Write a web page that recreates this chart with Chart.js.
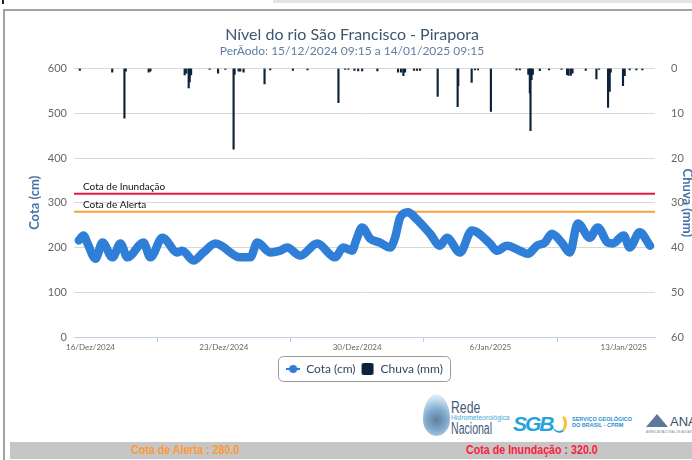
<!DOCTYPE html>
<html lang="pt-BR">
<head>
<meta charset="utf-8">
<title>Nível do rio São Francisco - Pirapora</title>
<script src="https://cdn.jsdelivr.net/npm/chart.js@4.4.1/dist/chart.umd.min.js"></script>
<style>
  html, body { margin: 0; padding: 0; background: #fff; }
  body { width: 692px; height: 460px; position: relative; overflow: hidden; font-family: Lato, "Liberation Sans", sans-serif; }
  #faixa { position: absolute; left: 273px; top: 0; width: 419px; height: 3px; background: #e4e4e4; }
  #marca { position: absolute; left: 2px; top: 0; width: 2px; height: 4px; background: #222; }
  #quadro { position: absolute; left: 3px; top: 9px; width: 700px; height: 460px; border-left: 2px solid #a3a3a3; border-top: 2px solid #a3a3a3; }
  #area { position: absolute; left: 6px; top: 12px; width: 692px; height: 378px; }
  #gota { position: absolute; left: 423px; top: 394px; width: 27px; height: 42px; border-radius: 50% 50% 50% 50% / 60% 60% 40% 40%; background: radial-gradient(circle at 50% 62%, #5d7f9e 0%, #7fa9cc 35%, #c2ddef 70%, #fff 100%); }
  .rede { position: absolute; left: 451px; color: #3f5b78; font-family: "Liberation Sans", sans-serif; line-height: 1; transform-origin: left top; white-space: nowrap; }
  #sgb { position: absolute; left: 513px; top: 412px; font: italic bold 21px "Liberation Sans", sans-serif; color: #27a3dc; letter-spacing: -2px; }
  #sgbArco { position: absolute; left: 552px; top: 414px; width: 12px; height: 15px; border-radius: 50%; border-right: 3px solid #f2c230; border-top: 2px solid transparent; border-bottom: 2px solid #27a3dc; }
  #sgbTexto { position: absolute; left: 572px; top: 416px; font: bold 5.5px "Liberation Sans", sans-serif; color: #2a8fd0; line-height: 6px; }
  #anaIcone { position: absolute; left: 646px; top: 414px; width: 0; height: 0; border-left: 11px solid transparent; border-right: 11px solid transparent; border-bottom: 13px solid #5d7a99; }
  #ana { position: absolute; left: 670px; top: 414px; font: 13px "Liberation Sans", sans-serif; color: #3a4e6a; }
  #anaSub { position: absolute; left: 646px; top: 430px; font: 3px "Liberation Sans", sans-serif; color: #7a8da3; }
  #barra { position: absolute; left: 10px; top: 442px; width: 682px; height: 17px; background: #c6c6c6; }
  .aviso { position: absolute; top: 1px; font: bold 12px "Liberation Sans", sans-serif; line-height: 15px; transform: scaleX(0.89); transform-origin: left top; white-space: nowrap; }
</style>
</head>
<body>
<div id="faixa"></div>
<div id="marca"></div>
<div id="quadro"></div>
<div id="area"><canvas id="grafico"></canvas></div>
<div id="gota"></div>
<div class="rede" style="top:399px;font-size:17px;transform:scaleX(0.72);">Rede</div>
<div class="rede" style="top:414px;font-size:7.5px;color:#3fa9d8;transform:scaleX(0.9);">Hidrometeorológica</div>
<div class="rede" style="top:421px;font-size:16px;transform:scaleX(0.66);">Nacional</div>
<div id="sgb">SGB</div>
<div id="sgbArco"></div>
<div id="sgbTexto">SERVIÇO GEOLÓGICO<br>DO BRASIL - CPRM</div>
<div id="anaIcone"></div>
<div id="ana">ANA</div>
<div id="anaSub">AGÊNCIA NACIONAL DE ÁGUAS</div>
<div id="barra">
  <span class="aviso" style="left:121px;color:#ff9933;">Cota de Alerta : 280.0</span>
  <span class="aviso" style="left:456px;color:#ff1a40;">Cota de Inundação : 320.0</span>
</div>
<script>
const cotaHoras = [
  "2024-12-15T09:15", "2024-12-15T15:10", "2024-12-15T20:15", "2024-12-16T06:15", "2024-12-16T15:05",
  "2024-12-17T03:40", "2024-12-17T13:45", "2024-12-17T22:30", "2024-12-18T18:40", "2024-12-19T03:30",
  "2024-12-19T18:35", "2024-12-20T13:30", "2024-12-20T19:45", "2024-12-21T09:35", "2024-12-21T22:15",
  "2024-12-22T13:20", "2024-12-23T20:45", "2024-12-24T09:20", "2024-12-24T18:10", "2024-12-25T10:30",
  "2024-12-25T23:05", "2024-12-26T07:55", "2024-12-27T00:15", "2024-12-27T21:40", "2024-12-28T20:20",
  "2024-12-29T06:25", "2024-12-29T17:45", "2024-12-29T22:45", "2024-12-30T06:20", "2024-12-30T16:25",
  "2024-12-31T05:00", "2024-12-31T17:35", "2024-12-31T23:50", "2025-01-01T06:10", "2025-01-01T16:15",
  "2025-01-02T01:00", "2025-01-02T19:55", "2025-01-03T08:30", "2025-01-03T17:15", "2025-01-04T09:40",
  "2025-01-05T00:45", "2025-01-05T23:25", "2025-01-06T08:10", "2025-01-06T20:50", "2025-01-07T13:10",
  "2025-01-07T23:15", "2025-01-08T10:35", "2025-01-08T20:40", "2025-01-09T05:25", "2025-01-09T18:00",
  "2025-01-10T04:05", "2025-01-10T14:10", "2025-01-11T05:15", "2025-01-11T15:20", "2025-01-12T03:55",
  "2025-01-12T10:15", "2025-01-13T00:05", "2025-01-13T07:35", "2025-01-13T20:10", "2025-01-14T09:15"
];
const cotaValores = [
  216, 227, 209, 175, 211, 178, 209, 178, 211, 178,
  222, 189, 193, 171, 189, 209, 178, 178, 211, 189,
  193, 200, 182, 209, 178, 200, 193, 216, 245, 220,
  211, 200, 222, 267, 279, 267, 231, 204, 222, 189,
  238, 209, 193, 204, 193, 186, 204, 211, 231, 211,
  189, 254, 222, 245, 211, 209, 227, 200, 234, 204
];

const chuvaHoras = [
  "2024-12-15T10:30", "2024-12-17T03:20", "2024-12-17T18:45", "2024-12-17T20:25", "2024-12-19T01:20",
  "2024-12-19T03:30", "2024-12-20T22:40", "2024-12-21T00:50", "2024-12-21T03:45", "2024-12-21T05:00",
  "2024-12-21T06:45", "2024-12-22T06:10", "2024-12-22T16:45", "2024-12-23T01:55", "2024-12-23T12:20",
  "2024-12-23T13:35", "2024-12-23T18:40", "2024-12-23T20:45", "2024-12-24T00:55", "2024-12-25T03:20",
  "2024-12-25T10:30", "2024-12-26T15:05", "2024-12-27T09:30", "2024-12-29T00:30", "2024-12-29T08:55",
  "2024-12-29T13:05", "2024-12-29T20:40", "2024-12-30T01:20", "2024-12-30T06:20", "2024-12-31T01:35",
  "2025-01-01T03:35", "2025-01-01T07:25", "2025-01-01T10:20", "2025-01-01T12:25", "2025-01-01T23:45",
  "2025-01-02T03:30", "2025-01-02T07:20", "2025-01-03T05:35", "2025-01-04T06:45", "2025-01-04T07:30",
  "2025-01-05T00:25", "2025-01-05T04:30", "2025-01-05T08:20", "2025-01-06T00:40", "2025-01-07T09:00",
  "2025-01-07T13:10", "2025-01-07T23:50", "2025-01-08T01:45", "2025-01-08T02:35", "2025-01-08T03:55",
  "2025-01-08T05:30", "2025-01-08T14:20", "2025-01-09T02:00", "2025-01-09T17:40", "2025-01-10T00:40",
  "2025-01-10T02:30", "2025-01-10T05:20", "2025-01-10T07:30", "2025-01-11T00:15", "2025-01-11T13:40",
  "2025-01-11T17:00", "2025-01-12T04:20", "2025-01-12T06:25", "2025-01-12T07:40", "2025-01-12T23:10",
  "2025-01-13T01:20", "2025-01-13T07:35", "2025-01-13T16:00", "2025-01-13T23:35"
];
const chuvaValores = [
  0.4, 0.8, 11.1, 0.6, 0.8, 0.6, 1.4, 1.0, 4.3, 3.0,
  1.4, 0.2, 1.0, 0.2, 18.0, 1.3, 0.6, 0.6, 0.8, 3.4,
  0.3, 0.4, 0.3, 7.6, 0.2, 0.2, 0.4, 0.5, 0.5, 0.5,
  0.8, 0.8, 1.6, 0.8, 0.4, 0.4, 0.4, 6.2, 8.5, 3.8,
  3.1, 0.3, 0.3, 9.6, 0.3, 0.3, 1.3, 5.5, 13.9, 2.5,
  1.3, 0.45, 0.3, 0.2, 1.35, 1.5, 1.5, 1.0, 0.4, 2.3,
  0.2, 8.7, 5.1, 0.8, 3.8, 1.6, 0.3, 0.3, 0.3
];

const ticksX = ["2024-12-16T00:00", "2024-12-23T00:00", "2024-12-30T00:00", "2025-01-06T00:00", "2025-01-13T00:00"];
const rotulosX = ["16/Dez/2024", "23/Dez/2024", "30/Dez/2024", "6/Jan/2025", "13/Jan/2025"];
const limitesX = ["2024-12-15T03:10", "2025-01-14T15:30"];

const cotasReferencia = [320, 280];
const nomesReferencia = ["Cota de Inundação", "Cota de Alerta"];
const coresReferencia = ["#e8173d", "#f7a040"];

const azul = "#2f7ed8";
const marinho = "#0d233a";

Chart.defaults.font.family = "Lato, 'Liberation Sans', sans-serif";

const _icone = (desenho) => {
  const c = document.createElement("canvas");
  c.width = 14;
  c.height = 12;
  desenho(c.getContext("2d"));
  return c;
};

const iconeCota = _icone((g) => {
  g.strokeStyle = azul;
  g.lineWidth = 2;
  g.beginPath();
  g.moveTo(0, 6);
  g.lineTo(14, 6);
  g.stroke();
  g.fillStyle = azul;
  g.beginPath();
  g.arc(7, 6, 4, 0, Math.PI * 2);
  g.fill();
});

const iconeChuva = _icone((g) => {
  g.fillStyle = marinho;
  g.beginPath();
  g.roundRect(1, 0, 12, 12, 2);
  g.fill();
});

const linhasCota = {
  id: "linhasCota",
  beforeDatasetsDraw(chart) {
    const { ctx, chartArea, scales } = chart;
    ctx.save();
    cotasReferencia.forEach((v, i) => {
      const y = scales.y.getPixelForValue(v);
      ctx.strokeStyle = coresReferencia[i];
      ctx.lineWidth = 2;
      ctx.beginPath();
      ctx.moveTo(chartArea.left, y);
      ctx.lineTo(chartArea.right, y);
      ctx.stroke();
      ctx.fillStyle = "#111";
      ctx.font = "10px Lato, 'Liberation Sans', sans-serif";
      ctx.textBaseline = "alphabetic";
      ctx.fillText(nomesReferencia[i], chartArea.left + 9, y - 4);
    });
    ctx.restore();
  },
};

// legenda centrada na área do gráfico, com moldura arredondada
const bordaLegenda = {
  id: "bordaLegenda",
  afterLayout(chart) {
    const legenda = chart.legend;
    const dx = (chart.chartArea.left + chart.chartArea.right) / 2 - (legenda.left + legenda.right) / 2;
    legenda.left += dx;
    legenda.right += dx;
    legenda.top += 4;
    legenda.bottom += 4;
  },
  afterDraw(chart) {
    const caixas = chart.legend.legendHitBoxes;
    if (!caixas || !caixas.length) return;
    const ctx = chart.ctx;
    const esq = Math.min(...caixas.map((c) => c.left)) - 8;
    const dir = Math.max(...caixas.map((c) => c.left + c.width)) + 7;
    const topo = caixas[0].top - 7;
    ctx.save();
    ctx.strokeStyle = "#9a9a9a";
    ctx.lineWidth = 1;
    ctx.beginPath();
    ctx.roundRect(Math.round(esq) + 0.5, Math.round(topo) + 0.5, Math.round(dir - esq), caixas[0].height + 13, 5);
    ctx.stroke();
    ctx.restore();
  },
};

const ctx = document.getElementById("grafico");
const grafico = new Chart(ctx, {
  type: "bar",
  data: {
    datasets: [
      {
        type: "line",
        label: "Cota (cm)",
        data: cotaHoras.map((h, i) => ({ x: Date.parse(h), y: cotaValores[i] })),
        borderColor: azul,
        backgroundColor: azul,
        borderWidth: 8.5,
        pointRadius: 0,
        cubicInterpolationMode: "monotone",
        borderCapStyle: "round",
        borderJoinStyle: "round",
        yAxisID: "y",
        order: 2,
      },
      {
        type: "bar",
        label: "Chuva (mm)",
        data: chuvaHoras.map((h, i) => ({ x: Date.parse(h), y: chuvaValores[i] })),
        backgroundColor: marinho,
        barThickness: 1.5,
        yAxisID: "y1",
        order: 1,
      },
    ],
  },
  options: {
    responsive: true,
    maintainAspectRatio: false,
    animation: false,
    layout: { padding: { left: 0, right: 0, top: 0, bottom: 9 } },
    plugins: {
      title: {
        display: true,
        text: "Nível do rio São Francisco - Pirapora",
        color: "#3e576f",
        font: { size: 16, weight: "normal" },
        padding: { top: 13, bottom: 0 },
      },
      subtitle: {
        display: true,
        text: "PerÃodo: 15/12/2024 09:15 a 14/01/2025 09:15",
        color: "#5f7fa3",
        font: { size: 12 },
        padding: { top: 0, bottom: 10 },
      },
      legend: {
        position: "bottom",
        labels: {
          usePointStyle: true,
          pointStyleWidth: 14,
          boxHeight: 12,
          padding: 5,
          color: "#2f4a66",
          font: { size: 12 },
          generateLabels: (chart) =>
            chart.data.datasets.map((ds, i) => ({
              text: ds.label,
              pointStyle: i === 0 ? iconeCota : iconeChuva,
              fillStyle: ds.backgroundColor,
              strokeStyle: ds.backgroundColor,
              lineWidth: 0,
              hidden: false,
              datasetIndex: i,
              fontColor: "#2f4a66",
            })),
        },
      },
      tooltip: { enabled: false },
    },
    scales: {
      x: {
        type: "linear",
        offset: false,
        min: Date.parse(limitesX[0]),
        max: Date.parse(limitesX[1]),
        afterBuildTicks: (scale) => {
          scale.ticks = ticksX.map((t) => ({ value: Date.parse(t) }));
        },
        afterFit: (scale) => {
          scale.height = 17;
        },
        ticks: {
          autoSkip: false,
          maxRotation: 0,
          padding: 1,
          color: "#666",
          font: { size: 8 },
          callback: (v) => rotulosX[ticksX.map((t) => Date.parse(t)).indexOf(v)],
        },
        grid: {
          display: true,
          drawOnChartArea: false,
          drawTicks: true,
          tickLength: 5,
          color: "#c0d0e0",
        },
        border: { display: true, color: "#c0d0e0", width: 1 },
      },
      y: {
        position: "left",
        min: 0,
        max: 600,
        afterFit: (scale) => {
          scale.width = 68;
        },
        ticks: { stepSize: 100, padding: 7, color: "#666", font: { size: 11 } },
        grid: { color: "#d8d8d8", drawTicks: false },
        border: { display: false },
        title: {
          display: true,
          text: "Cota (cm)",
          color: "#4572a7",
          font: { size: 13, weight: "bold" },
          padding: { top: 21, bottom: 0 },
        },
      },
      y1: {
        position: "right",
        reverse: true,
        min: 0,
        max: 60,
        afterFit: (scale) => {
          scale.width = 43;
        },
        ticks: { stepSize: 10, padding: 8, color: "#666", font: { size: 11 } },
        grid: { display: false },
        border: { display: false },
        title: {
          display: true,
          text: "Chuva (mm)",
          color: "#4572a7",
          font: { size: 13, weight: "bold" },
          padding: { top: 3, bottom: 0 },
        },
      },
    },
  },
  plugins: [linhasCota, bordaLegenda],
});
</script>
</body>
</html>
